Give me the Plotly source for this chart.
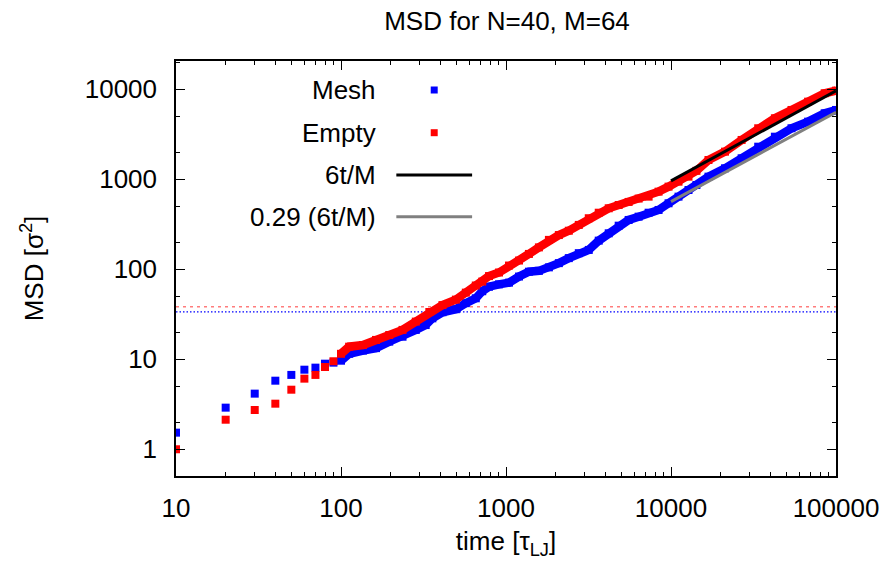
import plotly.graph_objects as go

# ---------------- data ----------------
mesh_t = [10, 20, 30, 40, 50, 60, 70, 80, 90, 100, 112, 136, 163, 196, 236, 284, 326, 358,
          412, 497, 571, 656, 718, 789, 907, 1043, 1199, 1377, 1583, 1820, 2091, 2403, 2762,
          3174, 3648, 4193, 4819, 5538, 6366, 7316, 8408, 9664, 11107, 12766, 14260, 16870,
          21250, 26790, 33770, 42620, 53740, 67750, 85420, 100000]
mesh_msd = [1.53, 2.9, 4.15, 5.78, 6.7, 7.66, 8.07, 8.93, 9.17, 9.64, 11.5, 12.5, 13.3, 15.7,
            17.8, 21.2, 24, 28.5, 33.3, 36, 42, 47.6, 57, 64, 68, 71, 83, 94, 96, 105, 117,
            133, 151, 164, 208, 251, 305, 353, 384, 425, 456, 541, 641, 760, 864, 1069, 1324,
            1710, 2301, 2972, 3686, 4365, 5410, 5888]

empty_t = [10, 20, 30, 40, 50, 60, 70, 80, 90, 100, 112, 136, 163, 196, 236, 284, 343, 412,
           497, 571, 656, 718, 789, 907, 1043, 1199, 1377, 1583, 1820, 2091, 2403, 2762, 3174,
           3648, 4193, 4819, 5538, 6366, 7316, 8408, 9664, 11107, 12766, 14260, 16870, 21250,
           26790, 33770, 42620, 53740, 67750, 85420, 100000]
empty_msd = [1.0, 2.13, 2.73, 3.21, 4.59, 6.09, 6.7, 8.2, 9.5, 11.5, 13.8, 14.4, 16.4, 18.6,
             21.2, 26.2, 33.5, 40, 46, 55, 66, 73, 84, 92, 110, 125, 148, 175, 212, 240, 268,
             311, 369, 425, 476, 518, 560, 610, 641, 728, 828, 940, 1069, 1240, 1637, 2027,
             2733, 3686, 4761, 5888, 7279, 9031, 9650]

fit_t = [10000, 100000]
fit_6tM = [960, 9600]
fit_029 = [565, 5560]

plateau_t = [10, 100000]
plateau_empty = [38.4, 38.4]
plateau_mesh = [33.6, 33.6]

x_tickvals = [10, 100, 1000, 10000, 100000]
x_ticktext = ["10", "100", "1000", "10000", "100000"]
y_tickvals = [1, 10, 100, 1000, 10000]
y_ticktext = ["1", "10", "100", "1000", "10000"]

legend_labels = ["Mesh", "Empty", "6t/M", "0.29 (6t/M)"]

BLUE = "#0000ff"
RED = "#ff0000"
GRAY = "#808080"
FONT = "Liberation Sans, Arial, sans-serif"
FS = 26

# ---------------- figure ----------------
fig = go.Figure()

# plateau reference lines
fig.add_trace(go.Scatter(x=plateau_t, y=plateau_empty, mode="lines",
                         line=dict(color="rgba(255,80,80,0.75)", width=1.5, dash="3px,4px"),
                         hoverinfo="skip"))
fig.add_trace(go.Scatter(x=plateau_t, y=plateau_mesh, mode="lines",
                         line=dict(color=BLUE, width=1.2, dash="1.5px,2px"),
                         hoverinfo="skip"))

def add_series(t, v, color):
    # dense part drawn as a thick band
    idx = [i for i, tt in enumerate(t) if tt >= 100]
    fig.add_trace(go.Scatter(x=[t[i] for i in idx], y=[v[i] for i in idx], mode="lines",
                             line=dict(color=color, width=8.5), hoverinfo="skip"))
    fig.add_trace(go.Scatter(x=t, y=v, mode="markers",
                             marker=dict(symbol="square", size=8, color=color,
                                         line=dict(width=0))))

add_series(mesh_t, mesh_msd, BLUE)
add_series(empty_t, empty_msd, RED)

fig.add_trace(go.Scatter(x=fit_t, y=fit_6tM, mode="lines",
                         line=dict(color="black", width=3)))
fig.add_trace(go.Scatter(x=fit_t, y=fit_029, mode="lines",
                         line=dict(color=GRAY, width=3)))

# ---------------- layout ----------------
L, R, T, B = 176, 53, 61, 87
W, H = 891, 563
pw, ph = W - L - R, H - T - B

axis_common = dict(type="log", showgrid=False, zeroline=False, showline=True,
                   linecolor="black", linewidth=1.5, mirror="ticks",
                   ticks="inside", ticklen=9, tickwidth=1, tickcolor="black",
                   tickfont=dict(family=FONT, size=FS, color="black"))

fig.update_layout(
    width=W, height=H,
    margin=dict(l=L, r=R, t=T, b=B),
    paper_bgcolor="white", plot_bgcolor="white",
    showlegend=False,
    title=dict(text="MSD for N=40, M=64", x=(L + pw / 2) / W, xanchor="center",
               y=1 - 21 / H, yanchor="middle",
               font=dict(family=FONT, size=FS, color="black")),
    xaxis=dict(**axis_common, range=[1, 5], tickvals=x_tickvals, ticktext=x_ticktext,
               ticklabelstandoff=8,
               minor=dict(ticks="inside", ticklen=4, tickcolor="black", dtick="D1",
                          showgrid=False),
               title=dict(text="time [τ<sub>LJ</sub>]", standoff=10,
                          font=dict(family=FONT, size=FS, color="black"))),
    yaxis=dict(**axis_common, range=[-0.297, 4.314], tickvals=y_tickvals, ticktext=y_ticktext,
               ticklabelstandoff=12,
               minor=dict(ticks="inside", ticklen=4, tickcolor="black", dtick="D2",
                          showgrid=False),
               title=dict(text="MSD [σ<sup>2</sup>]", standoff=34,
                          font=dict(family=FONT, size=FS, color="black"))),
)

# ---------------- legend (gnuplot style: text left, sample right) ----------------
def px_x(p):
    return (p - L) / pw

def px_y(p):
    return (H - B - p) / ph

legend_y_px = [90, 132.7, 175, 216.7]
text_right_px = 379
for lab, yy in zip(legend_labels, legend_y_px):
    fig.add_annotation(x=px_x(text_right_px), y=px_y(yy), xref="paper", yref="paper",
                       text=lab, showarrow=False, xanchor="right", yanchor="middle",
                       font=dict(family=FONT, size=FS, color="black"))

sq = 3.5
for color, yy in zip([BLUE, RED], legend_y_px[:2]):
    fig.add_shape(type="rect", xref="paper", yref="paper",
                  x0=px_x(435 - sq), x1=px_x(435 + sq), y0=px_y(yy + sq), y1=px_y(yy - sq),
                  fillcolor=color, line=dict(width=0))
for color, yy in zip(["black", GRAY], legend_y_px[2:]):
    fig.add_shape(type="line", xref="paper", yref="paper",
                  x0=px_x(397), x1=px_x(473), y0=px_y(yy), y1=px_y(yy),
                  line=dict(color=color, width=3))

fig.write_html("out.html")
